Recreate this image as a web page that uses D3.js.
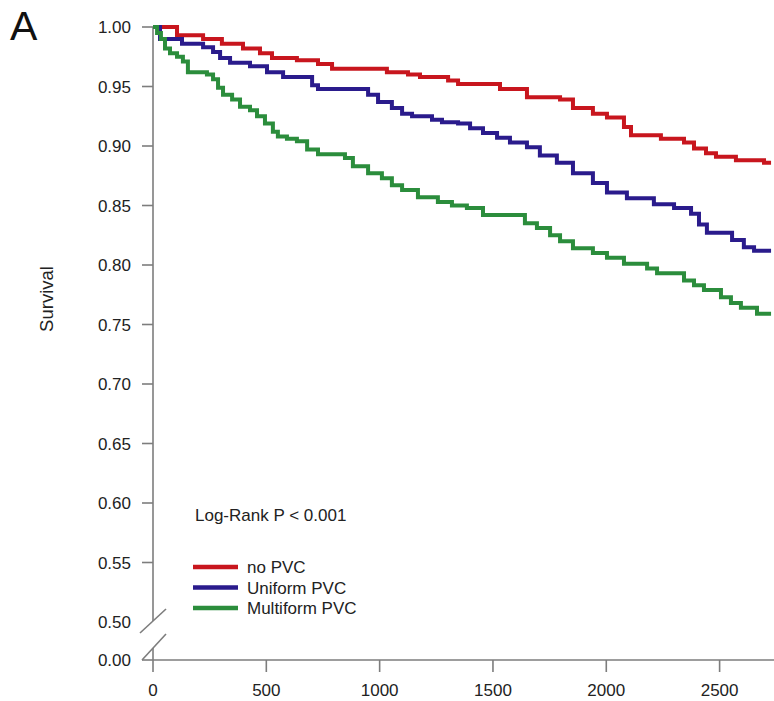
<!DOCTYPE html>
<html>
<head>
<meta charset="utf-8">
<script src="https://cdn.jsdelivr.net/npm/d3@7/dist/d3.min.js"></script>
<style>
  html, body { margin: 0; padding: 0; background: #ffffff; }
  svg { display: block; }
</style>
</head>
<body>
<svg id="chart" width="774" height="701"></svg>
<script>
// Kaplan-Meier survival by PVC group: day at which each step begins, and survival from that day on
const seriesNames = ["no PVC", "Uniform PVC", "Multiform PVC"];

const noPvcDays = [0, 106, 221, 304, 397, 472, 525, 635, 728, 790, 1032, 1125, 1178, 1302, 1346, 1531, 1650, 1796, 1853, 1941, 2003, 2078, 2109, 2241, 2343, 2387, 2440, 2484, 2572, 2696, 2727];
const noPvcSurv = [1.000, 0.993, 0.990, 0.986, 0.982, 0.978, 0.974, 0.972, 0.969, 0.965, 0.962, 0.960, 0.958, 0.955, 0.952, 0.948, 0.941, 0.939, 0.932, 0.927, 0.924, 0.916, 0.909, 0.906, 0.903, 0.898, 0.894, 0.891, 0.888, 0.886, 0.886];

const uniformDays = [0, 31, 128, 221, 265, 296, 340, 428, 503, 574, 702, 728, 949, 993, 1054, 1099, 1143, 1231, 1275, 1346, 1399, 1456, 1518, 1575, 1650, 1707, 1782, 1853, 1941, 2003, 2091, 2210, 2299, 2374, 2409, 2444, 2555, 2607, 2652, 2727];
const uniformSurv = [1.000, 0.990, 0.986, 0.983, 0.979, 0.974, 0.970, 0.967, 0.962, 0.958, 0.951, 0.948, 0.943, 0.937, 0.932, 0.927, 0.925, 0.922, 0.920, 0.919, 0.915, 0.911, 0.907, 0.903, 0.899, 0.892, 0.886, 0.877, 0.869, 0.861, 0.856, 0.851, 0.848, 0.843, 0.834, 0.827, 0.821, 0.815, 0.812, 0.812];

const multiformDays = [0, 18, 35, 53, 75, 106, 132, 154, 238, 265, 287, 309, 349, 384, 428, 459, 494, 529, 551, 591, 635, 680, 728, 847, 882, 949, 1010, 1054, 1099, 1169, 1257, 1319, 1385, 1456, 1641, 1694, 1752, 1796, 1853, 1941, 2003, 2078, 2180, 2224, 2343, 2387, 2431, 2506, 2550, 2594, 2665, 2727];
const multiformSurv = [1.000, 0.995, 0.990, 0.982, 0.978, 0.975, 0.971, 0.962, 0.960, 0.956, 0.949, 0.943, 0.939, 0.933, 0.930, 0.925, 0.919, 0.912, 0.908, 0.906, 0.904, 0.897, 0.893, 0.890, 0.883, 0.877, 0.873, 0.867, 0.863, 0.857, 0.853, 0.850, 0.848, 0.842, 0.835, 0.831, 0.825, 0.820, 0.814, 0.810, 0.806, 0.801, 0.797, 0.793, 0.787, 0.783, 0.779, 0.773, 0.768, 0.764, 0.759, 0.759];

const xTickValues = [0, 500, 1000, 1500, 2000, 2500];
const yTickValues = [0.00, 0.50, 0.55, 0.60, 0.65, 0.70, 0.75, 0.80, 0.85, 0.90, 0.95, 1.00];
const seriesColors = ["#c8161e", "#2a1b8c", "#2b8d3c"];
const panelLabel = "A";
const yAxisTitle = "Survival";
const testLabel = "Log-Rank P < 0.001";

const series = [
  { name: seriesNames[0], days: noPvcDays, surv: noPvcSurv, color: seriesColors[0] },
  { name: seriesNames[1], days: uniformDays, surv: uniformSurv, color: seriesColors[1] },
  { name: seriesNames[2], days: multiformDays, surv: multiformSurv, color: seriesColors[2] }
];

const svg = d3.select("#chart");
const font = "'Liberation Sans', Arial, Helvetica, sans-serif";
const textColor = "#222222";
const axisColor = "#7d7d7d";
const labelSize = 17;

// x: days of follow-up; y: broken axis (0.00 sits just under the 0.50-1.00 band)
const x = d3.scaleLinear().domain([0, 2740]).range([153, 774]);
const y = d3.scaleLinear().domain([0, 0.5, 1]).range([660, 622, 27]);

const fmt = d3.format(".2f");

// Y axis: upper segment, short lower segment, break marks
const axisG = svg.append("g").attr("stroke", axisColor).attr("stroke-width", 1.6).attr("fill", "none");
axisG.append("line").attr("x1", x(0)).attr("x2", x(0)).attr("y1", y(1)).attr("y2", y(0.5) - 1);
axisG.append("line").attr("x1", x(0)).attr("x2", x(0)).attr("y1", y(0) - 12).attr("y2", y(0));
axisG.append("line").attr("x1", 140).attr("y1", y(0.5) + 11).attr("x2", 166).attr("y2", y(0.5) - 13);
axisG.append("line").attr("x1", 142).attr("y1", y(0)).attr("x2", 166).attr("y2", y(0) - 26);

// Y ticks and labels
yTickValues.forEach(v => {
  if (v !== 0.5) {
    axisG.append("line").attr("x1", x(0) - 11).attr("x2", x(0)).attr("y1", y(v)).attr("y2", y(v));
  }
  svg.append("text")
    .attr("x", 131).attr("y", y(v) + 6)
    .attr("text-anchor", "end")
    .attr("font-family", font).attr("font-size", labelSize).attr("fill", textColor)
    .text(fmt(v));
});

// X axis line, ticks and labels
axisG.append("line").attr("x1", x(0)).attr("x2", 774).attr("y1", y(0)).attr("y2", y(0));
xTickValues.forEach(v => {
  axisG.append("line").attr("x1", x(v)).attr("x2", x(v)).attr("y1", y(0)).attr("y2", y(0) + 12);
  svg.append("text")
    .attr("x", x(v)).attr("y", 696)
    .attr("text-anchor", "middle")
    .attr("font-family", font).attr("font-size", labelSize).attr("fill", textColor)
    .text(v);
});

// Survival curves
const line = d3.line()
  .x(d => x(d[0]))
  .y(d => y(d[1]))
  .curve(d3.curveStepAfter);

svg.append("g").selectAll("path")
  .data(series)
  .join("path")
  .attr("d", s => line(s.days.map((d, i) => [d, s.surv[i]])))
  .attr("fill", "none")
  .attr("stroke", s => s.color)
  .attr("stroke-width", 4)
  .attr("stroke-linejoin", "miter")
  .attr("stroke-linecap", "butt");

// Panel letter and axis title
svg.append("text")
  .attr("x", 10).attr("y", 40)
  .attr("font-family", font).attr("font-size", 41).attr("fill", "#111111")
  .text(panelLabel);

svg.append("text")
  .attr("transform", "translate(53,299) rotate(-90)")
  .attr("text-anchor", "middle")
  .attr("font-family", font).attr("font-size", 18.5).attr("fill", textColor)
  .text(yAxisTitle);

// Test statistic
svg.append("text")
  .attr("x", 195).attr("y", 521)
  .attr("font-family", font).attr("font-size", labelSize).attr("fill", textColor)
  .text(testLabel);

// Legend
const legend = svg.append("g");
series.forEach((s, i) => {
  const ly = 567 + i * 20.5;
  legend.append("line")
    .attr("x1", 193).attr("x2", 238).attr("y1", ly).attr("y2", ly)
    .attr("stroke", s.color).attr("stroke-width", 4.5);
  legend.append("text")
    .attr("x", 247).attr("y", ly + 6)
    .attr("font-family", font).attr("font-size", labelSize).attr("fill", textColor)
    .text(s.name);
});
</script>
</body>
</html>
